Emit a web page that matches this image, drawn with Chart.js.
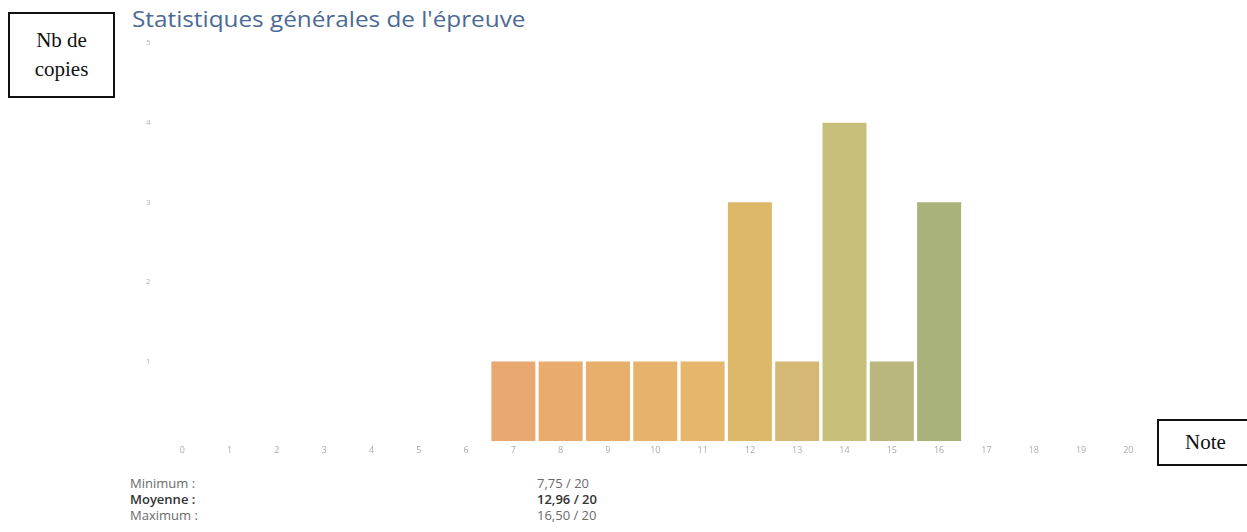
<!DOCTYPE html>
<html>
<head>
<meta charset="utf-8">
<script src="https://cdn.jsdelivr.net/npm/chart.js@4"></script>
<style>
  body { margin: 0; width: 1247px; height: 532px; background: #fff; position: relative; overflow: hidden; font-family: "Open Sans", sans-serif; }
  .box { position: absolute; border: 2px solid #111; font-family: "Liberation Serif", serif; color: #111; background: #fff; }
  #yBox { left: 8px; top: 12px; width: 107px; height: 86px; font-size: 21px; line-height: 29px; text-align: center; box-sizing: border-box; display: flex; align-items: center; justify-content: center; }
  #xBox { left: 1157px; top: 419px; width: 100px; height: 47px; font-size: 21px; box-sizing: border-box; padding-left: 26px; line-height: 43px; }
  #title { position: absolute; left: 132px; top: 4px; font-size: 21.5px; color: #4b6a96; transform: scaleX(1.13); transform-origin: left top; white-space: nowrap; }
  #wrap { position: absolute; left: 138px; top: 30px; width: 1014px; height: 430px; }
  .stats { position: absolute; font-size: 13px; color: #6b6b6b; line-height: 16px; }
  .stats b { color: #333; font-weight: 600; }
</style>
</head>
<body>
<div class="box" id="yBox">Nb de<br>copies</div>
<div id="title">Statistiques générales de l'épreuve</div>
<div id="wrap"><canvas id="noteChart"></canvas></div>
<div class="box" id="xBox">Note</div>
<div class="stats" style="left:130px; top:475px;">Minimum :<br><b>Moyenne :</b><br>Maximum :</div>
<div class="stats" style="left:537px; top:475px;">7,75 / 20<br><b>12,96 / 20</b><br>16,50 / 20</div>
<script>
// Histogram of grades
const notes = ['0','1','2','3','4','5','6','7','8','9','10','11','12','13','14','15','16','17','18','19','20'];
const nbCopies = [0, 0, 0, 0, 0, 0, 0, 1, 1, 1, 1, 1, 3, 1, 4, 1, 3, 0, 0, 0, 0];
const barColors = ['#e8a870','#e8a870','#e8a870','#e8a870','#e8a870','#e8a870','#e8a870',
    '#e8a870','#e9ab6e','#e8af6c','#e6b26c','#e5b66c','#ddb868','#d5b874','#c7c07a','#b9b67e','#a9b27a',
    '#a9b27a','#a9b27a','#a9b27a','#a9b27a'];
const yTicks = [1, 2, 3, 4, 5];

const ctx = document.getElementById('noteChart');
new Chart(ctx, {
    type: 'bar',
    data: {
        labels: notes,
        datasets: [{
            data: nbCopies,
            backgroundColor: barColors,
            borderWidth: 0,
            barPercentage: 0.93,
            categoryPercentage: 1.0
        }]
    },
    options: {
        responsive: true,
        maintainAspectRatio: false,
        animation: false,
        plugins: {
            legend: { display: false },
            tooltip: { enabled: false }
        },
        layout: { padding: { top: 13, right: 0, bottom: 0, left: 0 } },
        scales: {
            x: {
                grid: { display: false, drawTicks: false },
                border: { display: false },
                ticks: { color: '#ababab', font: { size: 9, family: 'Open Sans' }, padding: 4, maxRotation: 0, autoSkip: false }
            },
            y: {
                min: 0,
                max: 5,
                grid: { display: false, drawTicks: false },
                border: { display: false },
                afterBuildTicks: function(axis) {
                    axis.ticks = yTicks.map(v => ({ value: v }));
                },
                ticks: { color: '#b5b5b5', font: { size: 8, family: 'Open Sans' }, padding: 8 }
            }
        }
    }
});
</script>
</body>
</html>
